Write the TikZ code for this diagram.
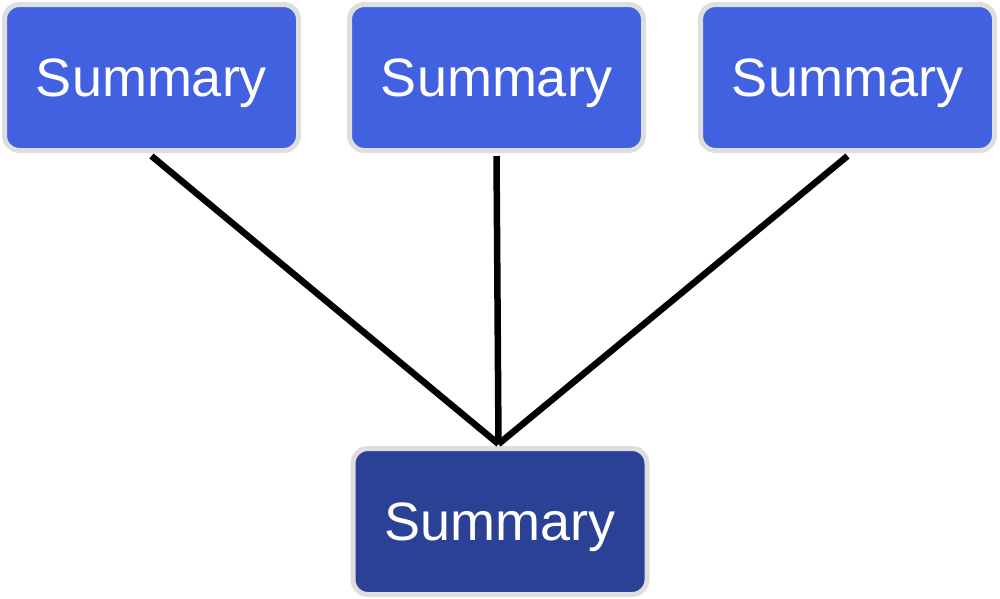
\documentclass[tikz,border=0pt]{standalone}
\usepackage{fontspec}
\setmainfont{Liberation Sans}
\definecolor{topblue}{HTML}{4161E1}
\definecolor{botblue}{HTML}{2B4196}
\definecolor{rim}{HTML}{DEDEDE}
\begin{document}
\begin{tikzpicture}[x=1pt,y=-1pt,
  sumbox/.style={draw=rim, line width=5pt, rounded corners=15pt, minimum width=294pt, minimum height=146pt, inner sep=0pt, text=white, text height=49pt, text depth=11pt, font=\fontsize{54}{60}\selectfont},
  link/.style={line width=6.5pt, black}]
\useasboundingbox (0,0) rectangle (1000,598);
\node[sumbox, fill=topblue] (a) at (151.5,77.5) {Summary};
\node[sumbox, fill=topblue] (b) at (496.5,77.5) {Summary};
\node[sumbox, fill=topblue] (c) at (847.5,77.5) {Summary};
\node[sumbox, fill=botblue] (d) at (500,521.5) {Summary};
\coordinate (j) at (498.5,444);
\draw[link] ([yshift=-3pt]a.south) -- (j);
\draw[link] ([yshift=-3pt]b.south) -- (j);
\draw[link] ([yshift=-3pt]c.south) -- (j);
\end{tikzpicture}
\end{document}
